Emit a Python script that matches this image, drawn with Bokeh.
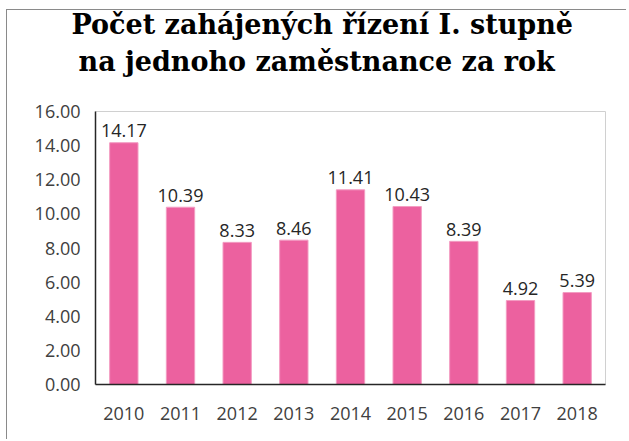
from bokeh.plotting import figure
from bokeh.models import ColumnDataSource, Range1d, FactorRange, FixedTicker, NumeralTickFormatter, Title
from bokeh.core.properties import value
from bokeh.embed import file_html
from bokeh.resources import INLINE

years = ["2010", "2011", "2012", "2013", "2014", "2015", "2016", "2017", "2018"]
counts = [14.17, 10.39, 8.33, 8.46, 11.41, 10.43, 8.39, 4.92, 5.39]
y_ticks = [0, 2, 4, 6, 8, 10, 12, 14, 16]
title_line1 = "Počet zahájených řízení I. stupně"
title_line2 = "na jednoho zaměstnance za rok"

src = ColumnDataSource(dict(year=years, count=counts, label=["%.2f" % v for v in counts]))

p = figure(x_range=FactorRange(*years), y_range=Range1d(0, 16),
           width=620, height=430, output_backend="svg", toolbar_location=None,
           min_border_left=88, min_border_right=22, min_border_top=101, min_border_bottom=56,
           title=None)
p.styles = {"border-left": "1px solid #8a8a8a", "border-top": "1px solid #8a8a8a",
            "margin-top": "9px", "margin-left": "6px"}

p.vbar(x="year", top="count", width=0.5, source=src, fill_color="#EC619F", line_color="#F39CC2", line_width=1)
p.text(x="year", y="count", text="label", source=src, text_align="center", text_baseline="middle",
       y_offset=-12, text_font=value("Open Sans"), text_font_size="18px", text_color="#262626")

spacer = Title(text=" ", align="left", standoff=13, text_font_size="10px")
t2 = Title(text=title_line2, align="left", offset=-17, standoff=18,
           text_font="DejaVu Serif", text_font_style="bold", text_font_size="27px", text_color="black")
t1 = Title(text=title_line1, align="left", offset=-24, standoff=-11,
           text_font="DejaVu Serif", text_font_style="bold", text_font_size="27px", text_color="black")
p.add_layout(spacer, "above")
p.add_layout(t2, "above")
p.add_layout(t1, "above")

p.xgrid.grid_line_color = None
p.ygrid.grid_line_color = None
p.outline_line_color = "#d0d0d0"
p.outline_line_width = 1

p.yaxis.ticker = FixedTicker(ticks=y_ticks)
p.yaxis.formatter = NumeralTickFormatter(format="0.00")
for ax in (p.xaxis, p.yaxis):
    ax.axis_line_color = "#262626"
    ax.axis_line_width = 1.5
    ax.major_tick_line_color = None
    ax.minor_tick_line_color = None
    ax.major_tick_out = 0
    ax.major_tick_in = 0
    ax.major_label_text_font = "Open Sans"
    ax.major_label_text_font_size = "18px"
    ax.major_label_text_color = "#404040"
p.yaxis.major_label_standoff = 15
p.xaxis.major_label_standoff = 22
p.x_range.range_padding = 0
p.x_range.group_padding = 0
p.x_range.factor_padding = 0

open("out.html", "w").write(file_html(p, INLINE))
